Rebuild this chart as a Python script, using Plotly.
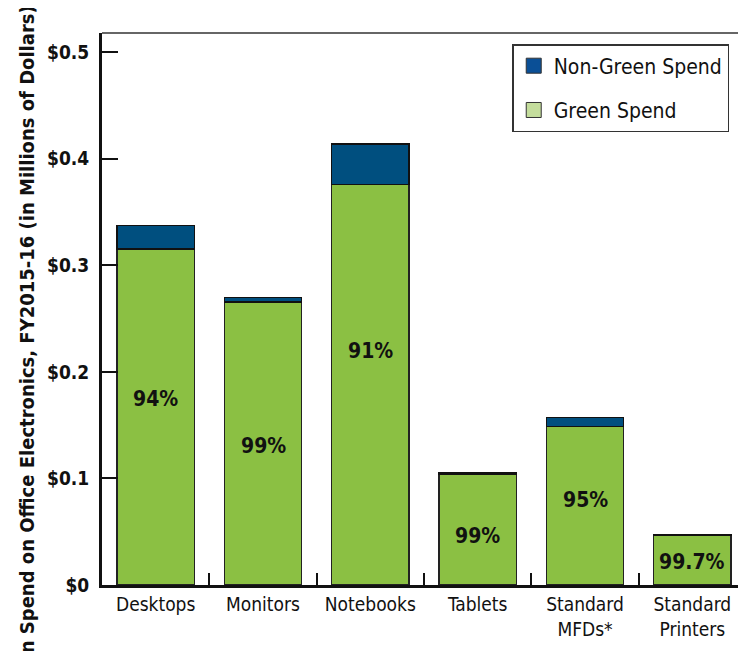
import plotly.graph_objects as go

# data (millions of dollars)
categories = ["Desktops", "Monitors", "Notebooks", "Tablets", "Standard<br>MFDs*", "Standard<br>Printers"]
green_spend = [0.3155, 0.2655, 0.3760, 0.1041, 0.1489, 0.0465]
non_green_spend = [0.0219, 0.0044, 0.0377, 0.0016, 0.0081, 0.0003]
pct_labels = ["94%", "99%", "91%", "99%", "95%", "99.7%"]
label_y = [0.175, 0.130, 0.220, 0.046, 0.080, 0.022]
y_ticks = [0, 0.1, 0.2, 0.3, 0.4, 0.5]
y_tick_text = ["$0", "$0.1", "$0.2", "$0.3", "$0.4", "$0.5"]

FONT = "Liberation Sans Narrow, DejaVu Sans Condensed, Roboto, sans-serif"
GREEN = "#8bc043"
BLUE = "#004f7f"

fig = go.Figure()

fig.add_trace(go.Bar(
    x=categories, y=green_spend, name="Green Spend", showlegend=False,
    marker=dict(color=GREEN, line=dict(color="#222222", width=1.5)),
    width=0.72, hoverinfo="y",
))
fig.add_trace(go.Bar(
    x=categories, y=non_green_spend, name="Non-Green Spend", showlegend=False,
    marker=dict(color=BLUE, line=dict(color="#111111", width=1.5)),
    width=0.72, hoverinfo="y",
))

# legend-only entries (the reference legend uses lighter swatches)
fig.add_trace(go.Scatter(
    x=[None], y=[None], mode="markers", name="Non-Green Spend", legendgroup="a",
    marker=dict(symbol="square", size=15, color="#0a4f96", line=dict(color="#333333", width=1)),
))
fig.add_trace(go.Scatter(
    x=[None], y=[None], mode="markers", name="Green Spend", legendgroup="b",
    marker=dict(symbol="square", size=15, color="#c4dd9c", line=dict(color="#333333", width=1)),
))

for cat, txt, yy in zip(categories, pct_labels, label_y):
    fig.add_annotation(x=cat, y=yy, text="<b>" + txt + "</b>", showarrow=False,
                       font=dict(family=FONT, size=21, color="#111111"))

# y axis title (cut off at the bottom of the picture, as in the reference)
fig.add_annotation(
    xref="paper", yref="paper", x=-0.138, y=1.054, xanchor="left", yanchor="top",
    text="<b>Green Spend on Office Electronics, FY2015-16 (in Millions of Dollars)</b>",
    textangle=-90, showarrow=False, font=dict(family=FONT, size=20, color="#111111"),
)

# top frame line
fig.add_shape(type="line", xref="paper", yref="paper", x0=0, x1=1, y0=1, y1=1,
              line=dict(color="#333333", width=1.5))

fig.update_layout(
    width=746, height=651,
    margin=dict(l=94, r=8, t=25, b=74),
    barmode="stack", bargap=0.28,
    plot_bgcolor="white", paper_bgcolor="white",
    font=dict(family=FONT, size=19, color="#111111"),
    legend=dict(
        x=0.637, y=0.98, xanchor="left", yanchor="top",
        bordercolor="#333333", borderwidth=1.5, bgcolor="white",
        font=dict(family=FONT, size=21, color="#111111"),
        tracegroupgap=14, itemwidth=30,
    ),
    xaxis=dict(
        type="category", range=[-0.5, 5.5], showgrid=False, automargin=False,
        showline=True, linecolor="#111111", linewidth=3,
        ticks="inside", tickson="boundaries", ticklen=12, tickwidth=2, tickcolor="#111111",
        tickfont=dict(family=FONT, size=19, color="#111111"),
    ),
    yaxis=dict(
        range=[0, 0.518], showgrid=False, zeroline=False, automargin=False,
        showline=True, linecolor="#111111", linewidth=3,
        ticks="inside", ticklen=16, tickwidth=2, tickcolor="#111111",
        tickvals=y_ticks, ticktext=y_tick_text, ticklabelstandoff=6,
        tickfont=dict(family=FONT, size=19, color="#111111", weight="bold"),
    ),
)

fig.write_html("out.html")
